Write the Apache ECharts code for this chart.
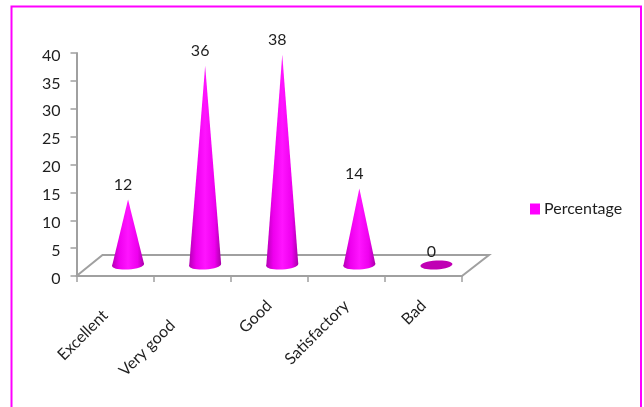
<!DOCTYPE html>
<html>
<head>
<meta charset="utf-8">
<script src="https://cdn.jsdelivr.net/npm/echarts@6/dist/echarts.min.js"></script>
<style>
html, body { margin: 0; padding: 0; background: #fff; }
#main { width: 644px; height: 407px; }
</style>
</head>
<body>
<div id="main"></div>
<script>
var categories = ['Excellent', 'Very good', 'Good', 'Satisfactory', 'Bad'];
var percentage = [12, 36, 38, 14, 0];
var yTicks = { min: 0, max: 40, interval: 5 };

var textColor = '#1f1f1f';
var axisColor = '#a0a0a0';
var fontName = 'Lato';

// the first two labels hang further down their 45 degree line in the original
var labelShift = [14, 28, 0, 0, 0];

var coneGradient = {
    type: 'linear', x: 0, y: 0, x2: 1, y2: 0,
    colorStops: [
        { offset: 0, color: '#b400b4' },
        { offset: 0.22, color: '#ee00ee' },
        { offset: 0.5, color: '#ff14ff' },
        { offset: 0.8, color: '#ee00ee' },
        { offset: 1, color: '#a800a8' }
    ]
};

// cone sits in the middle of the 3d floor, so shift it from the axis position
function renderCone(params, api) {
    var value = api.value(1);
    var base = api.coord([api.value(0), 0]);
    var top = api.coord([api.value(0), value]);
    var cx = base[0] + 13;
    var cy = base[1] - 11;
    var rx = 16, ry = 4.5;
    var apexY = top[1] - 9.5;
    var children = [];
    if (value > 0) {
        children.push({
            type: 'polygon',
            shape: { points: [[cx, apexY], [cx + rx, cy - 1], [cx - rx, cy + 1]] },
            style: { fill: coneGradient }
        });
    }
    children.push({
        type: 'ellipse',
        shape: { cx: cx, cy: cy, rx: rx, ry: ry },
        rotation: 0.06,
        originX: cx,
        originY: cy,
        style: { fill: value > 0 ? coneGradient : '#c000b4' }
    });
    children.push({
        type: 'text',
        style: {
            x: cx - 5, y: apexY - 14.5,
            text: String(value),
            fill: textColor,
            font: '16px ' + fontName,
            align: 'center',
            verticalAlign: 'middle'
        }
    });
    return { type: 'group', children: children };
}

// floor of the 3d plot, taken from the grid rectangle
function renderFloor(params, api) {
    var rect = params.coordSys;
    var left = rect.x, right = rect.x + rect.width, bottom = rect.y + rect.height;
    return {
        type: 'polyline',
        shape: { points: [[left, bottom], [left + 26, bottom - 21], [right + 27, bottom - 21], [right, bottom]] },
        style: { fill: null, stroke: axisColor, lineWidth: 2 }
    };
}

var myChart = echarts.init(document.getElementById('main'));
var option = {
    animation: false,
    backgroundColor: '#fff',
    textStyle: { fontFamily: fontName },
    graphic: [{
        type: 'rect',
        shape: { x: 11.5, y: 6.5, width: 629.5, height: 420 },
        style: { fill: null, stroke: '#ff00ff', lineWidth: 2 },
        silent: true
    }],
    legend: {
        left: 525,
        top: 196,
        icon: 'rect',
        itemWidth: 10,
        itemHeight: 11,
        itemGap: 0,
        data: ['Percentage'],
        textStyle: { color: textColor, fontSize: 16, fontFamily: fontName, padding: [0, 0, 0, -1] }
    },
    grid: { left: 76.5, top: 53, width: 385.5, height: 223 },
    xAxis: {
        type: 'category',
        data: categories.map(function (name, i) {
            return { value: name, textStyle: { padding: [0, labelShift[i], 0, 0] } };
        }),
        axisLine: { lineStyle: { color: axisColor, width: 2 } },
        axisTick: { show: true, length: 6, lineStyle: { color: axisColor, width: 1.5 } },
        axisLabel: { rotate: 45, color: textColor, fontSize: 16, margin: 27, interval: 0, fontFamily: fontName },
        splitLine: { show: false }
    },
    yAxis: {
        type: 'value',
        min: yTicks.min,
        max: yTicks.max,
        interval: yTicks.interval,
        axisLine: { show: true, lineStyle: { color: axisColor, width: 2 } },
        axisTick: { show: true, length: 6, lineStyle: { color: axisColor, width: 1.5 } },
        axisLabel: {
            color: textColor,
            margin: 16,
            formatter: '{v|{value}}',
            rich: { v: { color: textColor, fontSize: 16, fontFamily: fontName, padding: [5, 0, 0, 0] } }
        },
        splitLine: { show: false }
    },
    series: [
        {
            type: 'custom',
            silent: true,
            data: [[0, 0]],
            renderItem: renderFloor,
            z: 1
        },
        {
            name: 'Percentage',
            type: 'custom',
            itemStyle: { color: '#ff00ff' },
            data: percentage.map(function (v, i) { return [i, v]; }),
            renderItem: renderCone,
            encode: { x: 0, y: 1 },
            z: 2
        }
    ]
};
myChart.setOption(option);
</script>
</body>
</html>
